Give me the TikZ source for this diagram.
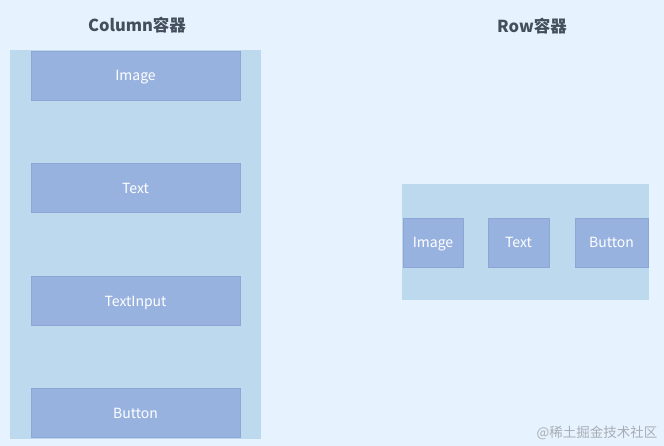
\documentclass[tikz,border=0pt]{standalone}
\usepackage{fontspec}
\setmainfont{Noto Sans CJK SC}
\usetikzlibrary{positioning}

\definecolor{pagebg}{HTML}{E6F2FD}
\definecolor{holder}{HTML}{BDD9EE}
\definecolor{widget}{HTML}{98B2E0}
\definecolor{widgetline}{HTML}{8CA6D8}
\definecolor{heading}{HTML}{444E5C}
\definecolor{mark}{HTML}{A8ADB5}

\begin{document}
\begin{tikzpicture}[x=1pt,
            y=-1pt,
            holderbox/.style={fill=holder, inner sep=0pt},
            widgetbox/.style={fill=widget, draw=widgetline, line width=0.6pt,
                              text=white, inner sep=0pt, minimum height=49pt,
                              text height=11pt, text depth=0pt,
                              font=\fontsize{14}{16}\selectfont},
            title/.style={text=heading, font=\fontsize{16.5}{19}\selectfont\bfseries}]

        \fill[pagebg] (0,0) rectangle (664,446);

        % column container
        \node[title]                                          (coltitle) at (137,25)    {Column容器};
        \node[holderbox, minimum width=251pt, minimum height=388pt] (col) at (135.5,244.5) {};
        \node[widgetbox, minimum width=209pt] (c1) at (135.5,75.5) {Image};
        \node[widgetbox, minimum width=209pt] (c2) at (135.5,188)  {Text};
        \node[widgetbox, minimum width=209pt] (c3) at (135.5,301)  {TextInput};
        \node[widgetbox, minimum width=209pt] (c4) at (135.5,413)  {Button};

        % row container
        \node[title]                                          (rowtitle) at (532,26)    {Row容器};
        \node[holderbox, minimum width=247pt, minimum height=116pt] (row) at (525.5,242) {};
        \node[widgetbox, minimum width=60pt]  (r1) at (433,242.5)   {Image};
        \node[widgetbox, minimum width=61pt]  (r2) at (518.5,242.5) {Text};
        \node[widgetbox, minimum width=73pt]  (r3) at (611.5,242.5) {Button};

        \node[text=mark, font=\fontsize{13.5}{16}\selectfont] (wm) at (597,433) {@稀土掘金技术社区};

    \end{tikzpicture}
\end{document}
